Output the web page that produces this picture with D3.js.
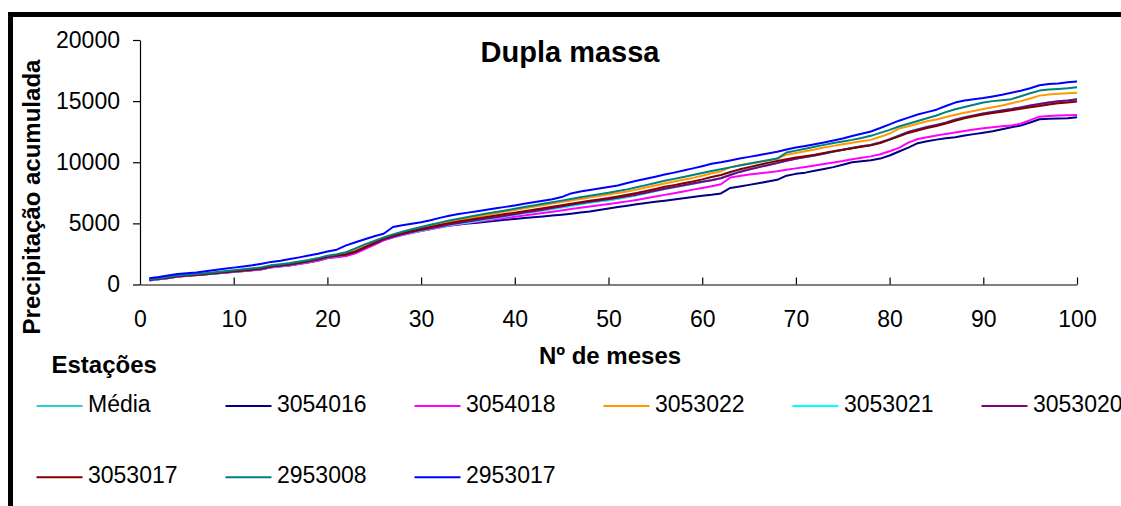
<!DOCTYPE html>
<html><head><meta charset="utf-8">
<script src="https://cdn.jsdelivr.net/npm/d3@7"></script>
<style>body{margin:0;background:#fff}svg{display:block}text{font-family:"Liberation Sans",Arial,sans-serif}</style>
</head><body><svg id="c" width="1121" height="506"></svg>
<script>
const months = d3.range(1, 101);
const xTicks = [0,10,20,30,40,50,60,70,80,90,100];
const yTicks = [0,5000,10000,15000,20000];
const seriesNames = ["Média","3054016","3054018","3053022","3053021","3053020","3053017","2953008","2953017"];
const seriesColors = ["#33CCCC","#000080","#FF00FF","#FF9900","#00FFFF","#800080","#800000","#008080","#0000FF"];

const media = [350,450,560,680,740,790,850,930,1000,1080,
1150,1230,1320,1480,1560,1650,1780,1900,2050,2250,
2380,2500,2750,3100,3400,3750,3950,4150,4320,4480,
4620,4760,4900,5020,5130,5250,5370,5480,5600,5720,
5850,5960,6080,6200,6320,6460,6580,6700,6800,6900,
7020,7150,7300,7480,7650,7820,7960,8100,8250,8400,
8550,8720,9000,9250,9450,9620,9800,9960,10150,10300,
10420,10550,10700,10850,11000,11150,11280,11400,11600,11850,
12150,12450,12650,12850,13000,13200,13450,13650,13800,13950,
14080,14200,14300,14450,14600,14720,14850,14950,15000,15080];
const s3054016 = [340,430,530,650,710,770,830,900,970,1040,
1100,1170,1250,1410,1490,1570,1690,1820,1970,2170,
2270,2370,2600,2950,3300,3650,3880,4080,4250,4400,
4540,4700,4820,4900,4980,5060,5140,5220,5290,5360,
5430,5500,5570,5640,5710,5790,5880,5980,6100,6220,
6340,6450,6560,6660,6760,6860,6960,7060,7160,7260,
7340,7450,7900,8020,8150,8280,8420,8560,8900,9050,
9150,9300,9450,9600,9800,10000,10080,10160,10300,10550,
10880,11200,11560,11720,11850,11960,12050,12180,12300,12420,
12540,12700,12870,13000,13250,13520,13560,13580,13600,13680];
const s3054018 = [330,420,520,640,700,760,820,890,960,1030,
1090,1160,1240,1400,1480,1560,1680,1800,1950,2150,
2230,2330,2550,2900,3250,3620,3850,4050,4220,4380,
4520,4660,4800,4910,5020,5130,5240,5340,5440,5540,
5650,5750,5850,5960,6060,6170,6280,6380,6480,6580,
6690,6800,6920,7050,7190,7330,7470,7610,7760,7900,
8040,8200,8750,8880,8990,9080,9170,9260,9380,9500,
9620,9740,9860,9980,10100,10240,10360,10480,10650,10900,
11180,11600,11900,12050,12180,12320,12440,12560,12670,12780,
12870,12940,13000,13150,13450,13730,13780,13820,13850,13870];
const s3053022 = [380,470,580,700,760,820,890,970,1050,1130,
1200,1280,1370,1520,1600,1690,1810,1940,2090,2290,
2410,2540,2800,3150,3480,3820,4050,4260,4450,4620,
4790,4960,5130,5270,5410,5550,5690,5820,5960,6100,
6240,6360,6490,6620,6750,6880,7000,7120,7240,7360,
7490,7610,7760,7930,8100,8270,8420,8570,8720,8900,
9100,9250,9600,9760,9900,10020,10150,10280,10620,10760,
10900,11050,11200,11340,11480,11600,11720,11830,12080,12350,
12750,12950,13150,13350,13500,13700,13880,14050,14200,14350,
14500,14650,14830,15000,15220,15450,15550,15600,15640,15690];
const s3053021 = [320,420,530,650,710,770,830,900,980,1050,
1120,1200,1280,1430,1520,1600,1720,1850,2000,2200,
2320,2450,2700,3050,3380,3700,3880,4080,4250,4400,
4550,4700,4850,4960,5080,5200,5320,5440,5570,5700,
5830,5940,6060,6180,6300,6430,6560,6680,6790,6900,
7020,7150,7300,7470,7640,7800,7950,8090,8240,8390,
8530,8700,8980,9230,9420,9600,9780,9950,10150,10300,
10430,10570,10720,10880,11030,11180,11310,11440,11640,11900,
12200,12500,12700,12900,13060,13260,13500,13700,13850,14000,
14130,14250,14360,14500,14650,14780,14900,15000,15060,15150];
const s3053020 = [360,440,540,660,720,780,840,910,990,1060,
1130,1200,1290,1450,1540,1620,1740,1870,2020,2220,
2330,2430,2650,3000,3330,3680,3900,4110,4290,4450,
4600,4750,4900,5030,5150,5270,5390,5500,5620,5750,
5880,6000,6120,6250,6380,6520,6640,6760,6870,6980,
7090,7210,7350,7510,7670,7830,7970,8110,8260,8400,
8520,8690,8960,9210,9400,9580,9760,9930,10120,10280,
10420,10560,10710,10870,11020,11170,11300,11420,11620,11870,
12170,12470,12680,12880,13040,13240,13470,13670,13830,13980,
14120,14240,14350,14490,14640,14770,14890,14990,15050,15150];
const s3053017 = [400,480,580,700,760,800,860,950,1020,1090,
1160,1240,1330,1500,1580,1670,1800,1930,2080,2280,
2400,2480,2700,3060,3400,3780,4000,4200,4380,4540,
4700,4860,5020,5150,5280,5400,5520,5640,5760,5880,
6000,6120,6240,6360,6480,6610,6730,6850,6960,7070,
7200,7340,7480,7650,7820,7990,8130,8280,8430,8600,
8790,8960,9200,9420,9600,9780,9950,10100,10250,10380,
10500,10620,10760,10900,11020,11150,11260,11380,11580,11850,
12120,12400,12600,12800,12960,13160,13400,13600,13760,13900,
14030,14140,14250,14380,14500,14600,14720,14820,14880,14960];
const s2953008 = [420,510,620,740,800,860,930,1010,1090,1170,
1240,1320,1420,1580,1660,1750,1880,2010,2160,2360,
2480,2640,2950,3280,3560,3850,4100,4320,4520,4700,
4880,5060,5230,5380,5520,5660,5800,5930,6060,6200,
6340,6470,6600,6730,6860,7000,7130,7260,7380,7500,
7640,7780,7950,8130,8310,8480,8640,8800,8960,9120,
9280,9430,9580,9730,9880,10020,10160,10300,10800,10950,
11100,11260,11420,11570,11700,11830,11980,12160,12400,12650,
12920,13150,13380,13600,13820,14100,14340,14520,14700,14880,
15000,15080,15160,15400,15650,15860,15950,16000,16050,16130];
const s2953017 = [520,620,740,860,930,990,1080,1180,1280,1380,
1480,1580,1700,1850,1950,2080,2220,2370,2520,2700,
2850,3200,3450,3700,3950,4150,4700,4850,4970,5100,
5250,5450,5620,5760,5880,6000,6120,6240,6350,6470,
6600,6720,6850,6980,7150,7450,7600,7730,7860,7980,
8100,8300,8480,8650,8820,8990,9150,9320,9500,9680,
9870,10000,10150,10300,10440,10580,10720,10860,11050,11200,
11330,11470,11620,11780,11950,12150,12330,12520,12800,13100,
13400,13650,13900,14100,14300,14600,14880,15050,15150,15250,
15380,15520,15680,15850,16050,16300,16400,16450,16550,16600];
const seriesValues = [media,s3054016,s3054018,s3053022,s3053021,s3053020,s3053017,s2953008,s2953017];

const FONT = "'Liberation Sans',Arial,sans-serif";
const svg = d3.select("#c");
// outer frame
svg.append("rect").attr("x",10.5).attr("y",14.5).attr("width",1300).attr("height",700)
  .attr("fill","none").attr("stroke","#000").attr("stroke-width",5);

const x = d3.scaleLinear().domain([0,100]).range([140,1077]);
const y = d3.scaleLinear().domain([0,20000]).range([284.5,40]);

// y axis
const ya = svg.append("g").attr("transform","translate(140,0)")
  .call(d3.axisLeft(y).tickValues(yTicks).tickSize(7).tickPadding(13).tickSizeOuter(0).tickFormat(d3.format("d")));
ya.select(".domain").attr("stroke","#000").attr("stroke-width",1.2);
ya.selectAll(".tick line").attr("stroke","#000").attr("stroke-width",1.2);
ya.selectAll("text").attr("font-size",23).attr("fill","#000").style("font-family",FONT);

// x axis (ticks inside)
const xa = svg.append("g").attr("transform","translate(0,284.5)")
  .call(d3.axisBottom(x).tickValues(xTicks).tickSize(-7).tickPadding(26).tickSizeOuter(0));
xa.select(".domain").attr("stroke","#000").attr("stroke-width",1.2);
xa.selectAll(".tick line").attr("stroke","#000").attr("stroke-width",1.2);
xa.selectAll(".tick").filter(d=>d===0).select("line").remove();
xa.selectAll("text").attr("font-size",23).attr("fill","#000").style("font-family",FONT);

// lines
const line = d3.line().x((d,i)=>x(months[i])).y(d=>y(d));
seriesValues.forEach((vals,k)=>{
  svg.append("path").datum(vals).attr("d",line).attr("fill","none")
    .attr("stroke",seriesColors[k]).attr("stroke-width",2).attr("stroke-linejoin","round");
});

// titles
svg.append("text").attr("x",570).attr("y",62).attr("text-anchor","middle")
  .attr("font-size",29).attr("font-weight","bold").text("Dupla massa");
svg.append("text").attr("transform","translate(39.5,197) rotate(-90)").attr("text-anchor","middle")
  .attr("font-size",24).attr("font-weight","bold").text("Precipitação acumulada");
svg.append("text").attr("x",610).attr("y",364).attr("text-anchor","middle")
  .attr("font-size",24).attr("font-weight","bold").text("Nº de meses");

// legend
svg.append("text").attr("x",51.5).attr("y",373).attr("font-size",24).attr("font-weight","bold").text("Estações");
seriesNames.forEach((n,k)=>{
  const col = k % 6, row = Math.floor(k/6);
  const lx = 36.5 + col*189, ly = 406 + row*71.3;
  svg.append("line").attr("x1",lx).attr("x2",lx+46).attr("y1",ly).attr("y2",ly)
    .attr("stroke",seriesColors[k]).attr("stroke-width",2);
  svg.append("text").attr("x",lx+51.5).attr("y",ly+6).attr("font-size",23).text(n);
});
</script></body></html>
